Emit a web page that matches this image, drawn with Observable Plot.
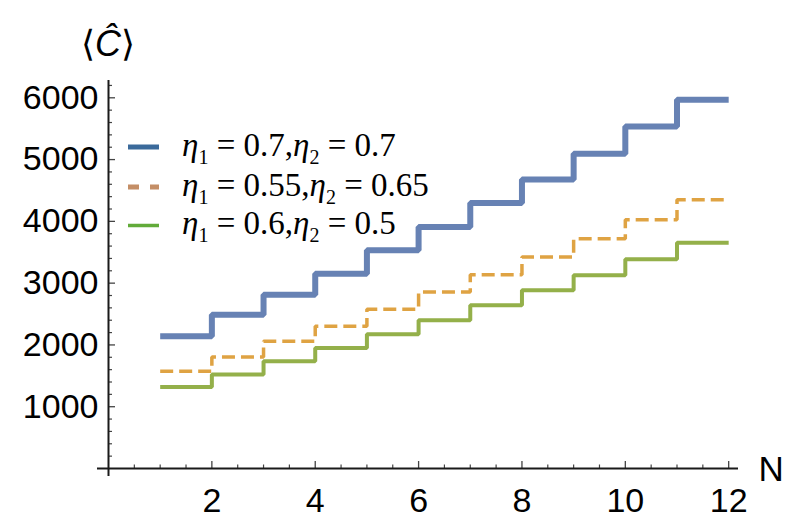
<!DOCTYPE html>
<html><head><meta charset="utf-8">
<script src="https://cdn.jsdelivr.net/npm/d3@7"></script>
<script src="https://cdn.jsdelivr.net/npm/@observablehq/plot@0.6"></script>
<style>
body{margin:0;background:#fff;}
#wrap{position:relative;width:800px;height:526px;}
</style>
</head><body><div id="wrap"></div>
<script>
// step index N (each level holds from N to N+1)
const N = [1,2,3,4,5,6,7,8,9,10,11];
const blueVals   = [2140,2490,2814,3154,3531,3908,4296,4679,5094,5536,5968];
const orangeVals = [1575,1805,2059,2301,2577,2857,3137,3423,3720,4027,4350];
const greenVals  = [1320,1520,1735,1951,2172,2398,2641,2884,3127,3385,3655];
const seriesEta1 = ["0.7","0.55","0.6"];
const seriesEta2 = ["0.7","0.65","0.5"];
const xEnd = 12;
const xMajor = [2,4,6,8,10,12];
const xMinor = [0.5,1,1.5,2.5,3,3.5,4.5,5,5.5,6.5,7,7.5,8.5,9,9.5,10.5,11,11.5];
const yMajor = [1000,2000,3000,4000,5000,6000];
const yMinor = [200,400,600,800,1200,1400,1600,1800,2200,2400,2600,2800,3200,3400,3600,3800,4200,4400,4600,4800,5200,5400,5600,5800,6200];

const lineColors = ["#6782b4","#dfa343","#94b04a"];
const legendColors = ["#3b6a9b","#c48e66","#62ab3a"];

function stepRows(vals){
  const rows = N.map((n,i)=>({n, v: vals[i]}));
  rows.push({n: xEnd, v: vals[vals.length-1]});
  return rows;
}

const sans = "'Liberation Sans', Arial, Helvetica, sans-serif";
const axisColor = "#1a1a1a";

const plot = Plot.plot({
  width: 800, height: 526,
  marginLeft: 108, marginRight: 62, marginTop: 80, marginBottom: 58,
  x: {domain: [0, 12.19]},
  y: {domain: [0, 6280]},
  style: {fontFamily: sans, background: "#fff"},
  marks: [
    // minor ticks (inward)
    Plot.axisX(xMinor, {tickSize: -3.5, tickFormat: () => "", label: null, stroke: "#444", strokeWidth: 1.2}),
    Plot.axisY(yMinor, {tickSize: -4, tickFormat: () => "", label: null, stroke: "#444", strokeWidth: 1.2}),
    // major ticks (inward)
    Plot.axisX(xMajor, {tickSize: -7, tickFormat: () => "", label: null, stroke: "#444", strokeWidth: 1.3}),
    Plot.axisY(yMajor, {tickSize: -7, tickFormat: () => "", label: null, stroke: "#444", strokeWidth: 1.3}),
    // labels
    Plot.axisX(xMajor, {tickSize: 0, tickPadding: 19, label: null, fontSize: 34, fill: "#000", stroke: null}),
    Plot.axisY(yMajor, {tickSize: 0, tickPadding: 10, label: null, fontSize: 34, fill: "#000", stroke: null, tickFormat: d => String(d)}),
    // axis lines
    Plot.ruleY([0], {insetLeft: -11, stroke: axisColor, strokeWidth: 2}),
    Plot.ruleX([0], {insetBottom: -8, stroke: axisColor, strokeWidth: 2}),
    // series
    Plot.line(stepRows(blueVals), {x: "n", y: "v", curve: "step-after", stroke: lineColors[0], strokeWidth: 6, strokeLinejoin: "miter", strokeLinecap: "butt"}),
    Plot.line(stepRows(orangeVals), {x: "n", y: "v", curve: "step-after", stroke: lineColors[1], strokeWidth: 3.5, strokeDasharray: "13,6", strokeLinejoin: "miter", strokeLinecap: "butt"}),
    Plot.line(stepRows(greenVals), {x: "n", y: "v", curve: "step-after", stroke: lineColors[2], strokeWidth: 4, strokeLinejoin: "miter", strokeLinecap: "butt"}),
    // axis titles
    Plot.text(["N"], {frameAnchor: "bottom-right", dx: 20, dy: 1, textAnchor: "start", lineAnchor: "middle", fontSize: 35, fill: "#000"}),
  ]
});

document.getElementById("wrap").appendChild(plot);

const svg = d3.select(plot);
// y-axis title ⟨Ĉ⟩
const yt = svg.append("text")
  .attr("x", 108).attr("y", 56)
  .attr("text-anchor", "middle")
  .attr("font-family", sans).attr("font-size", 36).attr("fill", "#000");
yt.append("tspan").text("⟨");
yt.append("tspan").attr("font-style", "italic").text("Ĉ");
yt.append("tspan").text("⟩");

// legend
const serif = "'Liberation Serif', 'Times New Roman', Times, serif";
const legendY = [147, 187, 225.5];
const legendW = [5, 5, 3.5];
const lg = svg.append("g").attr("text-anchor", "start");
seriesEta1.forEach((e1, i) => {
  const y = legendY[i];
  const line = lg.append("line")
    .attr("x1", 128).attr("x2", 159).attr("y1", y).attr("y2", y)
    .attr("stroke", legendColors[i]).attr("stroke-width", legendW[i]);
  if (i === 1) line.attr("stroke-dasharray", "11,11");
  const t = lg.append("text")
    .attr("x", 182).attr("y", y + 8.5)
    .attr("text-anchor", "start")
    .attr("font-family", serif).attr("font-size", 33).attr("fill", "#000");
  t.append("tspan").attr("font-style", "italic").text("η");
  t.append("tspan").attr("font-size", 20).attr("dy", 8).text("1");
  t.append("tspan").attr("dy", -8).text(" = " + e1 + ",");
  t.append("tspan").attr("font-style", "italic").text("η");
  t.append("tspan").attr("font-size", 20).attr("dy", 8).text("2");
  t.append("tspan").attr("dy", -8).text(" = " + seriesEta2[i]);
});
</script>
</body></html>
